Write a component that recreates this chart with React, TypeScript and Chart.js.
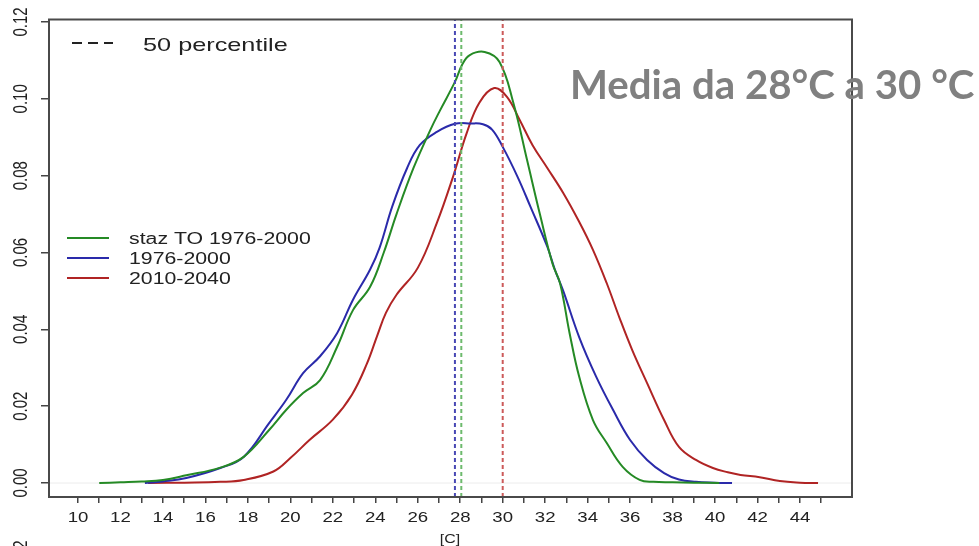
import React, { useEffect, useRef } from "react";
import { Chart, registerables } from "chart.js";

Chart.register(...registerables);

// ---- data ----
const greenX = [11, 12, 13, 14, 15.1, 16.7, 17.8, 19.0, 19.8, 20.6, 21.4, 22.2, 22.95, 23.75, 24.4, 25.0, 25.8, 26.6, 27.05, 27.75, 28.1, 28.45, 29.15, 29.85, 30.5, 31.15, 31.75, 32.35, 32.7, 33.15, 33.6, 34.25, 34.9, 35.65, 36.45, 37.1, 38, 39, 40.2];
const greenY = [0, 0.0002, 0.0004, 0.0008, 0.002, 0.004, 0.0068, 0.0138, 0.019, 0.0234, 0.0268, 0.0354, 0.045, 0.051, 0.06, 0.07, 0.082, 0.092, 0.097, 0.1044, 0.109, 0.1114, 0.1122, 0.1096, 0.099, 0.084, 0.07, 0.057, 0.052, 0.039, 0.0277, 0.0164, 0.0104, 0.0042, 0.0008, 0.0003, 0.0002, 0.0001, 0];

const blueX = [13.15, 14, 15.1, 16.7, 17.8, 19.0, 19.8, 20.6, 21.4, 22.2, 22.95, 23.75, 24.2, 24.8, 25.5, 26.1, 26.9, 27.75, 28.5, 29.07, 29.5, 30.0, 30.7, 31.3, 32.1, 32.46, 32.85, 33.6, 34.4, 35.2, 36.0, 36.8, 37.6, 38.3, 39.1, 40.0, 40.8];
const blueY = [0, 0.0004, 0.0013, 0.0039, 0.0068, 0.0156, 0.0216, 0.0286, 0.033, 0.039, 0.0477, 0.0555, 0.0612, 0.072, 0.082, 0.088, 0.0914, 0.0935, 0.0936, 0.0934, 0.092, 0.0875, 0.0797, 0.072, 0.0615, 0.0555, 0.05, 0.038, 0.0277, 0.019, 0.0112, 0.006, 0.0026, 0.0009, 0.0003, 0.0001, 0];

const redX = [13.3, 15, 16.7, 17.8, 19.2, 20.0, 20.9, 22.0, 22.9, 23.6, 24.1, 24.5, 25.0, 26.0, 26.9, 27.66, 28.3, 28.9, 29.6, 30.2, 30.8, 31.4, 32.1, 32.85, 33.6, 34.25, 34.9, 35.5, 36.1, 36.8, 37.6, 38.3, 39.1, 39.9, 40.6, 41.2, 42.1, 43.05, 44.0, 44.85];
const redY = [0, 0.0001, 0.0003, 0.0008, 0.003, 0.0065, 0.0112, 0.0165, 0.023, 0.031, 0.0385, 0.0443, 0.049, 0.056, 0.0677, 0.0797, 0.091, 0.099, 0.1028, 0.1005, 0.0945, 0.088, 0.082, 0.0755, 0.068, 0.0607, 0.052, 0.043, 0.0346, 0.026, 0.0164, 0.0094, 0.006, 0.0039, 0.0028, 0.0021, 0.0015, 0.0005, 0.0001, 0];

const seriesLabels = ["staz TO 1976-2000", "1976-2000", "2010-2040"];
const seriesColors = ["#258a25", "#2a2aaa", "#b02424"];
const medianValues = [28.05, 27.75, 30.0];
const medianColors = ["#6dba6d", "#4848b4", "#cc5a5a"];

const xTickValues = [10, 11, 12, 13, 14, 15, 16, 17, 18, 19, 20, 21, 22, 23, 24, 25, 26, 27, 28, 29, 30, 31, 32, 33, 34, 35, 36, 37, 38, 39, 40, 41, 42, 43, 44, 45];
const xLabelValues = [10, 12, 14, 16, 18, 20, 22, 24, 26, 28, 30, 32, 34, 36, 38, 40, 42, 44];
const yTickValues = [0, 0.02, 0.04, 0.06, 0.08, 0.1, 0.12];
const yTickLabels = ["0.00", "0.02", "0.04", "0.06", "0.08", "0.10", "0.12"];

const X_MIN = 8.587;
const X_MAX = 46.449;
const Y_MIN = -0.00364;
const Y_MAX = 0.12078;

const legendTitle = "50 percentile";
const overlayTitle = "Media da 28°C a 30 °C";
const xAxisTitle = "[C]";

const STRETCH = 1.33;
const FONT = "'Liberation Sans', Arial, Helvetica, sans-serif";

const toPoints = (xs: number[], ys: number[]) => xs.map((x, i) => ({ x, y: ys[i] }));

const decorPlugin = {
  id: "decor",
  beforeDatasetsDraw(chart: any) {
    const { ctx, chartArea, scales } = chart;
    const y0 = scales.y.getPixelForValue(0);
    ctx.save();
    ctx.strokeStyle = "#ececec";
    ctx.lineWidth = 1;
    ctx.beginPath();
    ctx.moveTo(chartArea.left, y0);
    ctx.lineTo(chartArea.right, y0);
    ctx.stroke();
    ctx.restore();
  },
  afterDraw(chart: any) {
    const { ctx, chartArea, scales } = chart;
    const xs = scales.x;
    const ys = scales.y;
    ctx.save();
    // frame
    ctx.strokeStyle = "#4a4a4a";
    ctx.lineWidth = 2;
    ctx.strokeRect(chartArea.left + 1, chartArea.top + 0.5, chartArea.right - chartArea.left - 1, chartArea.bottom - chartArea.top - 0.5);

    ctx.fillStyle = "#222";
    // x tick labels
    ctx.font = `14px ${FONT}`;
    ctx.textAlign = "center";
    ctx.textBaseline = "alphabetic";
    xLabelValues.forEach((v) => {
      const px = xs.getPixelForValue(v);
      ctx.save();
      ctx.translate(px, chartArea.bottom + 25);
      ctx.scale(STRETCH, 1);
      ctx.fillText(String(v), 0, 0);
      ctx.restore();
    });
    // x axis title
    ctx.font = `12px ${FONT}`;
    ctx.save();
    ctx.translate((chartArea.left + chartArea.right) / 2, chartArea.bottom + 46);
    ctx.scale(STRETCH, 1);
    ctx.fillText(xAxisTitle, 0, 0);
    ctx.restore();

    // y tick labels (rotated)
    ctx.font = `15px ${FONT}`;
    yTickValues.forEach((v, i) => {
      const py = ys.getPixelForValue(v);
      ctx.save();
      ctx.translate(chartArea.left - 21, py);
      ctx.scale(STRETCH, 1);
      ctx.rotate(-Math.PI / 2);
      ctx.fillText(yTickLabels[i], 0, 0);
      ctx.restore();
    });
    // cut-off label of the panel below
    ctx.save();
    ctx.translate(chartArea.left - 21, chartArea.bottom + 58);
    ctx.scale(STRETCH, 1);
    ctx.rotate(-Math.PI / 2);
    ctx.fillText(yTickLabels[6], 0, 0);
    ctx.restore();

    // "50 percentile" legend
    ctx.strokeStyle = "#222";
    ctx.lineWidth = 2;
    ctx.setLineDash([10, 6]);
    ctx.beginPath();
    ctx.moveTo(chartArea.left + 24, chartArea.top + 24);
    ctx.lineTo(chartArea.left + 65, chartArea.top + 24);
    ctx.stroke();
    ctx.setLineDash([]);
    ctx.font = `19px ${FONT}`;
    ctx.textAlign = "left";
    ctx.save();
    ctx.translate(chartArea.left + 95, chartArea.top + 32);
    ctx.scale(STRETCH, 1);
    ctx.fillText(legendTitle, 0, 0);
    ctx.restore();

    // series legend
    ctx.font = `16px ${FONT}`;
    seriesLabels.forEach((lab, i) => {
      const ly = chartArea.top + 219 + i * 20;
      ctx.strokeStyle = seriesColors[i];
      ctx.lineWidth = 2;
      ctx.beginPath();
      ctx.moveTo(chartArea.left + 19, ly);
      ctx.lineTo(chartArea.left + 61, ly);
      ctx.stroke();
      ctx.save();
      ctx.translate(chartArea.left + 81, ly + 6);
      ctx.scale(STRETCH, 1);
      ctx.fillText(lab, 0, 0);
      ctx.restore();
    });

    // overlay title
    ctx.fillStyle = "#808080";
    ctx.font = `bold 36px Lato, 'Open Sans', sans-serif`;
    const w = ctx.measureText(overlayTitle).width;
    const size = (36 * 405) / w;
    ctx.font = `bold ${size.toFixed(1)}px Lato, 'Open Sans', sans-serif`;
    ctx.textBaseline = "alphabetic";
    ctx.fillText(overlayTitle, 570, 99);
    ctx.restore();
  },
};

export default function App() {
  const ref = useRef<HTMLCanvasElement | null>(null);
  useEffect(() => {
    document.body.style.margin = "0";
    const canvas = ref.current;
    if (!canvas) return;
    const curveData = [toPoints(greenX, greenY), toPoints(blueX, blueY), toPoints(redX, redY)];
    const datasets: any[] = curveData.map((d, i) => ({
      label: seriesLabels[i],
      data: d,
      borderColor: seriesColors[i],
      borderWidth: 2,
      pointRadius: 0,
      fill: false,
      tension: 0.4,
      order: 2 + i,
    }));
    medianValues.forEach((m, i) => {
      datasets.push({
        label: "median " + seriesLabels[i],
        data: [
          { x: m, y: Y_MIN },
          { x: m, y: Y_MAX },
        ],
        borderColor: medianColors[i],
        borderWidth: 2,
        borderDash: [4, 3],
        pointRadius: 0,
        fill: false,
        order: 0,
      });
    });
    const chart = new Chart(canvas, {
      type: "line",
      data: { datasets },
      options: {
        animation: false,
        responsive: false,
        devicePixelRatio: 1,
        layout: { padding: { left: 8, right: 127, top: 19, bottom: 0 } },
        plugins: { legend: { display: false }, tooltip: { enabled: false } },
        scales: {
          x: {
            type: "linear",
            min: X_MIN,
            max: X_MAX,
            afterBuildTicks: (s: any) => {
              s.ticks = xTickValues.map((v) => ({ value: v }));
            },
            afterFit: (s: any) => {
              s.height = 49;
            },
            ticks: { display: false },
            border: { display: false },
            grid: { display: true, drawOnChartArea: false, drawTicks: true, tickLength: 6, color: "#444", lineWidth: 1.5 },
          },
          y: {
            type: "linear",
            min: Y_MIN,
            max: Y_MAX,
            afterBuildTicks: (s: any) => {
              s.ticks = yTickValues.map((v) => ({ value: v }));
            },
            afterFit: (s: any) => {
              s.width = 40;
            },
            ticks: { display: false },
            border: { display: false },
            grid: { display: true, drawOnChartArea: false, drawTicks: true, tickLength: 7, color: "#444", lineWidth: 1.5 },
          },
        },
      } as any,
      plugins: [decorPlugin],
    });
    return () => chart.destroy();
  }, []);
  return (
    <div style={{ width: 979, height: 546, background: "#fff", overflow: "hidden" }}>
      <canvas ref={ref} width={979} height={546} style={{ display: "block" }} />
    </div>
  );
}
